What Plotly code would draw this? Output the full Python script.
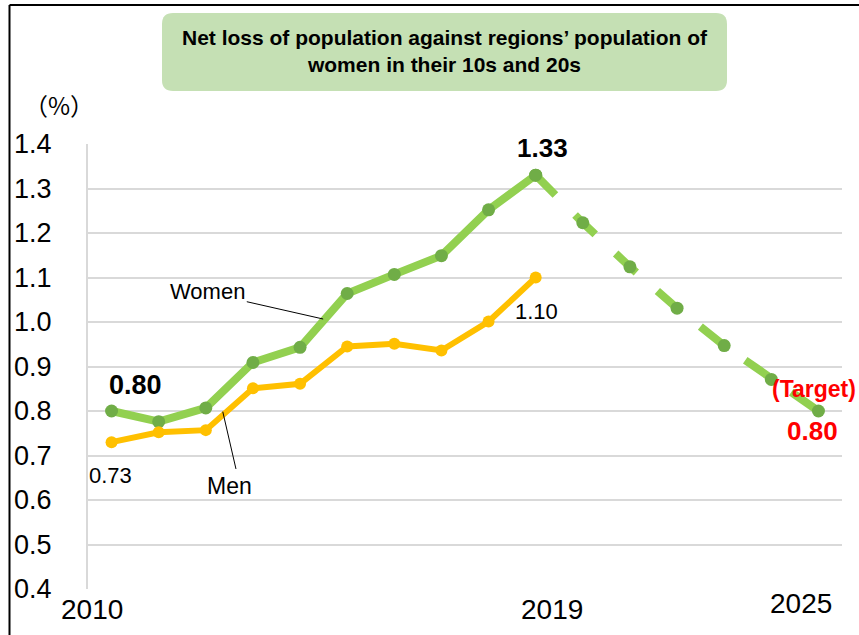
import plotly.graph_objects as go

# ---------------- data ----------------
years_actual = [2010, 2011, 2012, 2013, 2014, 2015, 2016, 2017, 2018, 2019]
women_actual = [0.80, 0.776, 0.807, 0.909, 0.943, 1.064, 1.107, 1.149, 1.252, 1.33]
men_actual = [0.73, 0.752, 0.757, 0.851, 0.861, 0.945, 0.951, 0.936, 1.001, 1.10]
years_target = [2019, 2020, 2021, 2022, 2023, 2024, 2025]
women_target = [1.33, 1.223, 1.124, 1.031, 0.947, 0.871, 0.80]
x_tick_labels = ["2010", "2019", "2025"]
y_ticks = [0.4, 0.5, 0.6, 0.7, 0.8, 0.9, 1.0, 1.1, 1.2, 1.3, 1.4]
title_text = "<b>Net loss of population against regions’ population of<br>women in their 10s and 20s</b>"

FONT = "Liberation Sans, Arial, sans-serif"
W, H = 859, 635
L, R, T, B = 88, 17, 144, 46
PW, PH = W - L - R, H - T - B

def px(x):  # pixel -> paper x
    return (x - L) / PW

def py(y):  # pixel -> paper y
    return (H - B - y) / PH

fig = go.Figure()

fig.add_trace(go.Scatter(
    x=years_actual, y=women_actual, mode="lines+markers", name="Women",
    line=dict(color="#92D050", width=8),
    marker=dict(color="#70AD47", size=13),
))
fig.add_trace(go.Scatter(
    x=years_target, y=women_target, mode="lines+markers", name="Women target",
    line=dict(color="#92D050", width=8, dash="28px,28px"),
    marker=dict(color="#70AD47", size=13),
))
fig.add_trace(go.Scatter(
    x=years_actual, y=men_actual, mode="lines+markers", name="Men",
    line=dict(color="#FFC000", width=6),
    marker=dict(color="#FFC000", size=12),
))

# rounded title box
x0, x1, y0, y1 = px(162), px(727), py(91), py(13)
rx, ry = 11 / PW, 11 / PH
path = (f"M {x0+rx} {y0} L {x1-rx} {y0} Q {x1} {y0} {x1} {y0+ry} "
        f"L {x1} {y1-ry} Q {x1} {y1} {x1-rx} {y1} "
        f"L {x0+rx} {y1} Q {x0} {y1} {x0} {y1-ry} "
        f"L {x0} {y0+ry} Q {x0} {y0} {x0+rx} {y0} Z")
shapes = [
    dict(type="path", xref="paper", yref="paper", path=path,
         fillcolor="#C5E0B4", line=dict(width=0), layer="below"),
    # outer frame (left + top)
    dict(type="line", xref="paper", yref="paper", x0=px(9.5), x1=px(9.5), y0=py(5), y1=py(640),
         line=dict(color="black", width=2)),
    dict(type="line", xref="paper", yref="paper", x0=px(9.5), x1=px(870), y0=py(5), y1=py(5),
         line=dict(color="black", width=2)),
    # leader lines
    dict(type="line", xref="x", yref="y", x0=2012.87, y0=1.0456, x1=2014.49, y1=1.0067,
         line=dict(color="black", width=1)),
    dict(type="line", xref="x", yref="y", x0=2012.64, y0=0.6697, x1=2012.36, y1=0.7984,
         line=dict(color="black", width=1)),
]

ann = []
ann.append(dict(xref="paper", yref="paper", x=px(445), y=py(51), text=title_text,
                showarrow=False, font=dict(family=FONT, size=21, color="black"),
                xanchor="center", yanchor="middle", align="center"))
ann.append(dict(xref="paper", yref="paper", x=px(59), y=py(104), text="（%）",
                showarrow=False, font=dict(family="Noto Sans CJK JP", size=24, color="black"),
                xanchor="center", yanchor="middle"))
# x tick labels (offset as in original)
for lab, xs, ys in zip(x_tick_labels, [-20, 16.5, -17], [609, 609, 603]):
    ann.append(dict(xref="x", yref="paper", x=int(lab), y=py(ys), text=lab, xshift=xs,
                    showarrow=False, font=dict(family=FONT, size=28, color="black"),
                    xanchor="center", yanchor="middle"))
# data labels
ann.append(dict(xref="x", yref="y", x=years_actual[0], y=women_actual[0], text="<b>0.80</b>",
                xshift=24, yshift=26, showarrow=False,
                font=dict(family=FONT, size=27, color="black")))
ann.append(dict(xref="x", yref="y", x=years_actual[-1], y=women_actual[-1], text="<b>1.33</b>",
                xshift=7, yshift=27, showarrow=False,
                font=dict(family=FONT, size=26, color="black")))
ann.append(dict(xref="x", yref="y", x=years_actual[-1], y=men_actual[-1], text="1.10",
                xshift=1, yshift=-34, showarrow=False,
                font=dict(family=FONT, size=22, color="black")))
ann.append(dict(xref="x", yref="y", x=years_actual[0], y=men_actual[0], text="0.73",
                xshift=-1, yshift=-33, showarrow=False,
                font=dict(family=FONT, size=22, color="black")))
ann.append(dict(xref="x", yref="y", x=years_target[-1], y=women_target[-1], text="<b>(Target)</b>",
                xshift=-4, yshift=22, showarrow=False,
                font=dict(family=FONT, size=23, color="#FF0000")))
ann.append(dict(xref="x", yref="y", x=years_target[-1], y=women_target[-1], text="<b>0.80</b>",
                xshift=-6, yshift=-20, showarrow=False,
                font=dict(family=FONT, size=26, color="#FF0000")))
# series labels
ann.append(dict(xref="paper", yref="paper", x=px(207.5), y=py(291), text="Women",
                xanchor="center", yanchor="middle",
                showarrow=False, font=dict(family=FONT, size=22, color="black")))
ann.append(dict(xref="paper", yref="paper", x=px(229), y=py(486), text="Men",
                xanchor="center", yanchor="middle",
                showarrow=False, font=dict(family=FONT, size=23, color="black")))

fig.update_layout(
    width=W, height=H,
    margin=dict(l=L, r=R, t=T, b=B, pad=0),
    paper_bgcolor="white", plot_bgcolor="white",
    showlegend=False,
    shapes=shapes, annotations=ann,
    font=dict(family=FONT, color="black"),
)
fig.update_xaxes(range=[2009.5, 2025.5], showgrid=False, showticklabels=False,
                 zeroline=False, showline=False, ticks="")
fig.update_yaxes(range=[0.4, 1.4], tickvals=y_ticks, tickformat=".1f",
                 showgrid=True, gridcolor="#D9D9D9", gridwidth=2,
                 zeroline=False, showline=True, linecolor="#D9D9D9", linewidth=2,
                 ticks="", ticklabelstandoff=29,
                 tickfont=dict(family=FONT, size=27, color="black"))

fig.write_html("out.html", config={"displayModeBar": False},
               post_script="document.body.style.margin='0';")
